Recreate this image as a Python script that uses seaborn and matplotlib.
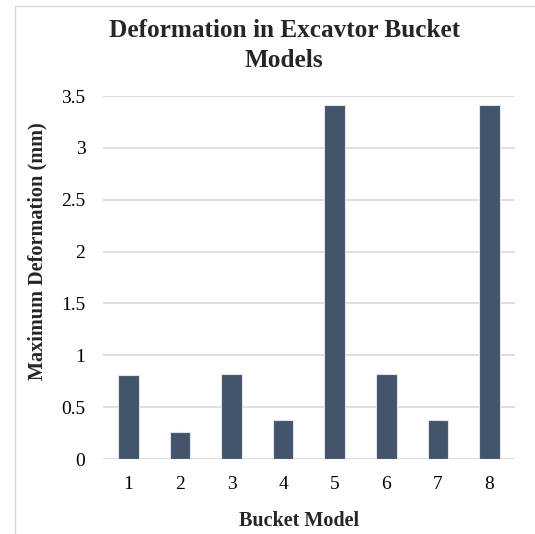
import matplotlib
matplotlib.use("Agg")
import matplotlib.pyplot as plt
import seaborn as sns
import pandas as pd
from matplotlib.lines import Line2D

# Deformation results per bucket model
models = ["1", "2", "3", "4", "5", "6", "7", "8"]
max_deformation = [0.81, 0.26, 0.82, 0.38, 3.41, 0.82, 0.38, 3.41]
y_ticks = [0, 0.5, 1, 1.5, 2, 2.5, 3, 3.5]
y_tick_labels = ["0", "0.5", "1", "1.5", "2", "2.5", "3", "3.5"]

df = pd.DataFrame({"Bucket Model": models, "Maximum Deformation (mm)": max_deformation})

sns.set_theme(style="white")
plt.rcParams["font.family"] = ["Liberation Serif", "DejaVu Serif"]

fig = plt.figure(figsize=(5.35, 5.34), dpi=100)
ax = fig.add_axes([0.192, 0.1404, 0.771, 0.6798])

sns.barplot(data=df, x="Bucket Model", y="Maximum Deformation (mm)",
            color="#44546A", saturation=1, width=0.4,
            edgecolor="#dfe3ea", linewidth=0.8, ax=ax, zorder=3)

ax.set_ylim(0, 3.5)
ax.set_yticks(y_ticks)
ax.set_yticklabels(y_tick_labels)
ax.yaxis.grid(True, color="#d9d9d9", linewidth=1.2, zorder=0)
ax.set_axisbelow(True)
for s in ax.spines.values():
    s.set_visible(False)
ax.tick_params(axis="both", length=0, labelsize=14, colors="#000000")
ax.tick_params(axis="y", pad=12.5)
ax.tick_params(axis="x", pad=12)

ax.set_xlabel("Bucket Model", fontsize=14.5, fontweight="bold")
ax.set_ylabel("Maximum Deformation (mm)", fontsize=14.6, fontweight="bold")
ax.xaxis.set_label_coords(0.476, -0.142)
ax.yaxis.set_label_coords(-0.1327, 0.5716)

fig.text(0.531, 0.915, "Deformation in Excavtor Bucket\nModels",
         ha="center", va="center", fontsize=18.2, fontweight="bold",
         linespacing=1.39)

# Chart area frame
fig.add_artist(Line2D([0.0275, 0.0275], [0.0, 0.989], color="#d9d9d9", linewidth=1.0))
fig.add_artist(Line2D([0.0275, 1.0], [0.989, 0.989], color="#d9d9d9", linewidth=1.0))

fig.savefig("out.png", dpi=100)
